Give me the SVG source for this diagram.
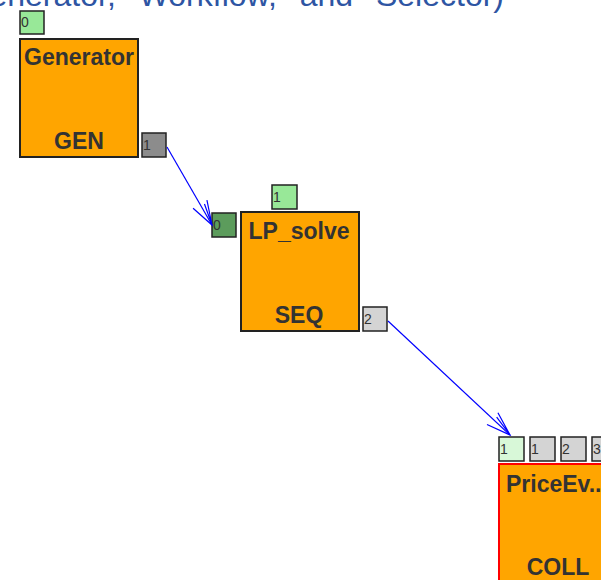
<svg xmlns="http://www.w3.org/2000/svg" width="601" height="580" viewBox="0 0 601 580">
<style>
.box{fill:#ffa500;stroke:#222;stroke-width:2}
.port{stroke:#222;stroke-width:1.5}
.t{font-family:"Liberation Sans",Arial,sans-serif;font-weight:bold;font-size:23px;fill:#333;text-anchor:middle}
.pl{font-family:"Liberation Sans",Arial,sans-serif;font-size:14px;fill:#333}
.conn{stroke:#0000ff;stroke-width:1.2;fill:none}
.hdr{font-family:"Liberation Sans",Arial,sans-serif;font-size:32px;word-spacing:14px;fill:#2e55a3;text-anchor:end}
</style>
<defs>
<marker id="arr" markerUnits="userSpaceOnUse" orient="auto" markerWidth="30" markerHeight="24" refX="0" refY="0" viewBox="-25 -12 30 24" overflow="visible">
<path d="M-24,-8 L0,0 L-24,8 M-22,-4 L0,0" stroke="#0000ff" stroke-width="1.2" fill="none"/>
</marker>
</defs>
<text class="hdr" x="504" y="6">(Generator, Workflow, and Selector)</text>
<g id="gen">
<rect class="box" x="20" y="39" width="118" height="118"/>
<text class="t" x="79" y="65">Generator</text>
<text class="t" x="79" y="149">GEN</text>
<rect class="port" x="20" y="11" width="24" height="23" fill="#98e898"/>
<text class="pl" x="21" y="27">0</text>
<rect class="port" x="142" y="133" width="24" height="24" fill="#8c8c8c"/>
<text class="pl" x="143" y="150">1</text>
</g>
<g id="lp">
<rect class="box" x="241" y="212" width="118" height="119"/>
<text class="t" x="299" y="239">LP_solve</text>
<text class="t" x="299" y="323">SEQ</text>
<rect class="port" x="272" y="185" width="25" height="24" fill="#98e898"/>
<text class="pl" x="273" y="202">1</text>
<rect class="port" x="212" y="213" width="24" height="24" fill="#5c9c5c"/>
<text class="pl" x="213" y="230">0</text>
<rect class="port" x="363" y="307" width="24" height="24" fill="#d4d4d4"/>
<text class="pl" x="364" y="324">2</text>
</g>
<g id="coll">
<rect class="box" x="499" y="464" width="118" height="130" style="stroke:#ff0000"/>
<text class="t" x="506" y="492" style="text-anchor:start">PriceEv..</text>
<text class="t" x="558" y="575">COLL</text>
<rect class="port" x="499" y="437" width="25" height="24" fill="#d8f8d8"/>
<text class="pl" x="500" y="454">1</text>
<rect class="port" x="530" y="437" width="25" height="24" fill="#d4d4d4"/>
<text class="pl" x="531" y="454">1</text>
<rect class="port" x="561" y="437" width="25" height="24" fill="#d4d4d4"/>
<text class="pl" x="562" y="454">2</text>
<rect class="port" x="592" y="437" width="25" height="24" fill="#d4d4d4"/>
<text class="pl" x="593" y="454">3</text>
</g>
<g id="connectors">
<line class="conn" x1="167" y1="147" x2="212" y2="225" marker-end="url(#arr)"/>
<line class="conn" x1="388" y1="321" x2="510" y2="435" marker-end="url(#arr)"/>
</g>
</svg>
